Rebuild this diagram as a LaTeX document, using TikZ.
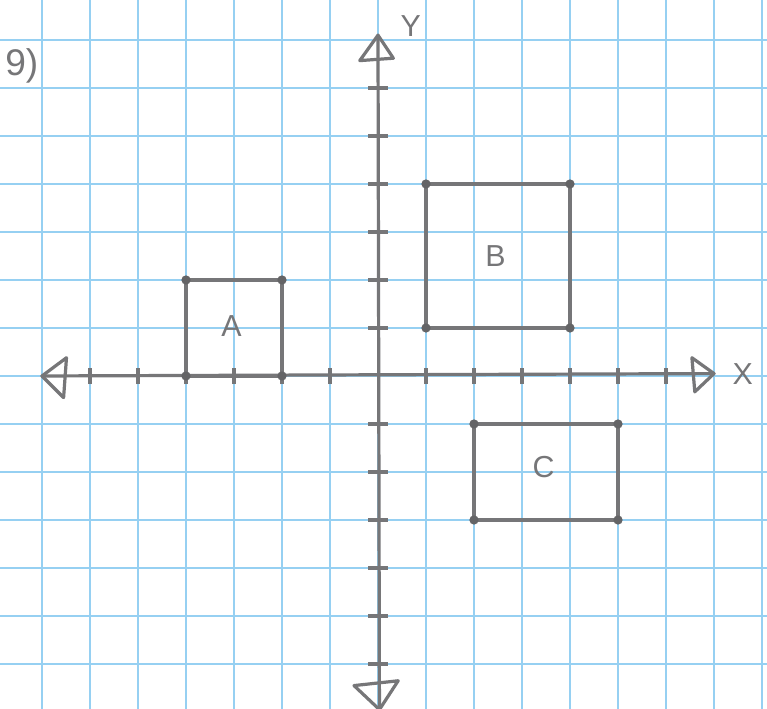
\documentclass[tikz,border=0pt]{standalone}
\usepackage{fontspec}
\setsansfont{Liberation Sans}
\definecolor{gridblue}{RGB}{150,208,242}
\definecolor{pencilgray}{RGB}{118,118,120}
\begin{document}
\begin{tikzpicture}[
  gridline/.style={draw=gridblue, line width=1.5pt},
  pencil/.style={draw=pencilgray, line width=1.9pt, line cap=round, line join=round},
  tickmark/.style={draw=pencilgray, line width=1.9pt},
  dotpt/.style={circle, fill=pencilgray!85!black, inner sep=0pt, minimum size=5.5pt},
  lbl/.style={text=pencilgray, font=\sffamily\fontsize{18}{21}\selectfont, inner sep=0pt}
]
\useasboundingbox (-7.875,-6.9375) rectangle (8.104,7.833);
\fill[white] (-7.875,-6.9375) rectangle (8.104,7.833);
% grid
\foreach \x in {-7,...,8} \draw[gridline] (\x,-6.9375) -- (\x,7.833);
\foreach \y in {-6,...,7} \draw[gridline] (-7.875,\y) -- (8.104,\y);
% axes
\coordinate (xl) at (-7,0);
\coordinate (xr) at (7,0.05);
\coordinate (yt) at (0,7.1);
\coordinate (yb) at (0.03,-6.95);
\draw[pencil] (xl) -- (xr);
\draw[pencil] (yb) -- (yt);
% arrowheads (open triangles)
\draw[pencil] (xl) -- (-6.49,0.38) -- (-6.55,-0.45) -- cycle;
\draw[pencil] (xr) -- (6.54,0.38) -- (6.6,-0.33) -- cycle;
\draw[pencil] (yt) -- (-0.38,6.57) -- (0.32,6.62) -- cycle;
\draw[pencil] (yb) -- (-0.5,-6.45) -- (0.42,-6.35) -- cycle;
% ticks
\foreach \x in {-6,...,-1,1,2,...,6} \draw[tickmark] (\x,-0.17) -- (\x,0.17);
\foreach \y in {-6,...,-1,1,2,...,6} \draw[tickmark] (-0.2,\y) -- (0.2,\y);
% shapes
\draw[pencil] (-4,0) rectangle (-2,2);
\draw[pencil] (1,1) rectangle (4,4);
\draw[pencil] (2,-1) rectangle (5,-3);
\foreach \p in {(-4,0),(-2,0),(-4,2),(-2,2),(1,1),(4,1),(1,4),(4,4),(2,-1),(5,-1),(2,-3),(5,-3)}
  \node[dotpt] at \p {};
% labels
\node[lbl] (la) at (-3.05,1.05) {A};
\node[lbl] (lb) at (2.45,2.5) {B};
\node[lbl] (lc) at (3.45,-1.9) {C};
\node[lbl] (lx) at (7.6,0.05) {X};
\node[lbl] (ly) at (0.68,7.3) {Y};
\node[lbl, font=\sffamily\fontsize{22}{26}\selectfont] (lq) at (-7.42,6.45) {9)};
\end{tikzpicture}
\end{document}
